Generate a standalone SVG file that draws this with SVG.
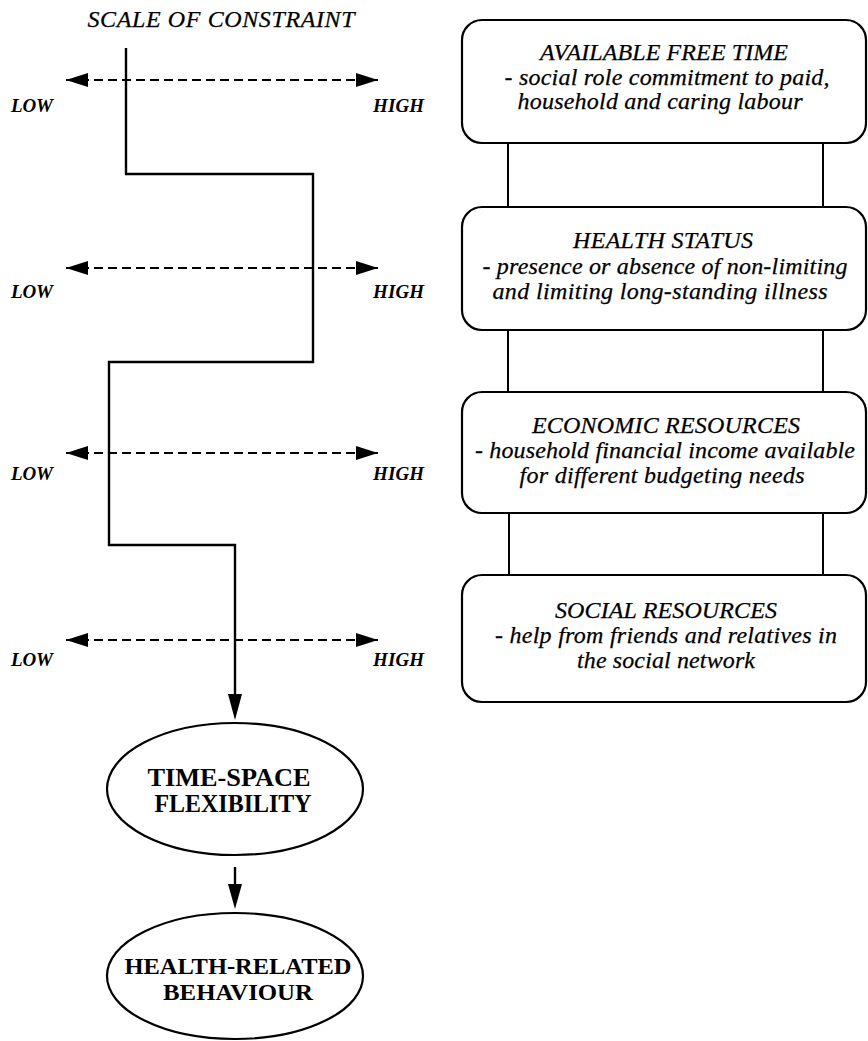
<svg xmlns="http://www.w3.org/2000/svg" width="868" height="1041" viewBox="0 0 868 1041">
  <style>
    .box { fill: #fff; stroke: #000; stroke-width: 2.2; }
    .link { stroke: #000; stroke-width: 2; fill: none; }
    .step { stroke: #000; stroke-width: 2.4; fill: none; }
    .dash { stroke: #000; stroke-width: 2; stroke-dasharray: 9 5; fill: none; }
    .it { font-family: "Liberation Serif", "Times New Roman", serif; font-style: italic; font-size: 24px; fill: #000; stroke: #000; stroke-width: 0.25; text-anchor: middle; }
    .lab { font-family: "Liberation Serif", "Times New Roman", serif; font-style: italic; font-weight: bold; font-size: 19px; fill: #000; }
    .bold { font-family: "Liberation Serif", "Times New Roman", serif; font-weight: bold; font-size: 26px; fill: #000; text-anchor: middle; }
    .bold2 { font-family: "Liberation Serif", "Times New Roman", serif; font-weight: bold; font-size: 24px; fill: #000; text-anchor: middle; }
  </style>
  <defs>
    <marker id="head" viewBox="0 0 22 14" refX="22" refY="7" markerWidth="22" markerHeight="14" markerUnits="userSpaceOnUse" orient="auto-start-reverse">
      <path d="M0,0 L22,7 L0,14 Z" fill="#000"/>
    </marker>
  </defs>

  <!-- scale heading -->
  <text class="it" x="221" y="27" textLength="267" lengthAdjust="spacing">SCALE  OF CONSTRAINT</text>

  <!-- connectors: scale arrows, constraint path, flow arrows, box links -->
  <g id="connectors">
    <line class="dash" x1="66" y1="80" x2="378" y2="80" marker-start="url(#head)" marker-end="url(#head)"/>
    <line class="dash" x1="66" y1="268" x2="378" y2="268" marker-start="url(#head)" marker-end="url(#head)"/>
    <line class="dash" x1="66" y1="453" x2="378" y2="453" marker-start="url(#head)" marker-end="url(#head)"/>
    <line class="dash" x1="66" y1="640" x2="378" y2="640" marker-start="url(#head)" marker-end="url(#head)"/>

    <path class="step" d="M126,48 V174 H313 V362 H109 V545 H235 V694"/>
    <path d="M228,694 L242,694 L235,720 Z" fill="#000"/>

    <line class="step" x1="235" y1="867" x2="235" y2="884"/>
    <path d="M228,884 L242,884 L235,909 Z" fill="#000"/>

    <line class="link" x1="508" y1="143" x2="508" y2="207"/>
    <line class="link" x1="823" y1="143" x2="823" y2="207"/>
    <line class="link" x1="508" y1="330" x2="508" y2="392"/>
    <line class="link" x1="823" y1="330" x2="823" y2="392"/>
    <line class="link" x1="509" y1="513" x2="509" y2="575"/>
    <line class="link" x1="823" y1="513" x2="823" y2="575"/>
  </g>

  <!-- scale end labels -->
  <g id="scale-labels">
    <text class="lab" x="11" y="112" textLength="42" lengthAdjust="spacing">LOW</text>
    <text class="lab" x="373" y="112" textLength="51" lengthAdjust="spacing">HIGH</text>
    <text class="lab" x="11" y="298" textLength="42" lengthAdjust="spacing">LOW</text>
    <text class="lab" x="373" y="298" textLength="51" lengthAdjust="spacing">HIGH</text>
    <text class="lab" x="11" y="480" textLength="42" lengthAdjust="spacing">LOW</text>
    <text class="lab" x="373" y="480" textLength="51" lengthAdjust="spacing">HIGH</text>
    <text class="lab" x="11" y="666" textLength="42" lengthAdjust="spacing">LOW</text>
    <text class="lab" x="373" y="666" textLength="51" lengthAdjust="spacing">HIGH</text>
  </g>

  <g id="free-time">
    <rect class="box" x="462" y="20" width="404" height="123" rx="20"/>
    <text class="it" x="664" y="60" textLength="248" lengthAdjust="spacing">AVAILABLE FREE TIME</text>
    <text class="it" x="667" y="85" textLength="325" lengthAdjust="spacing">- social role commitment to paid,</text>
    <text class="it" x="660" y="109" textLength="285" lengthAdjust="spacing">household and caring labour</text>
  </g>

  <g id="health-status">
    <rect class="box" x="462" y="207" width="404" height="123" rx="20"/>
    <text class="it" x="663" y="248" textLength="180" lengthAdjust="spacing">HEALTH STATUS</text>
    <text class="it" x="665" y="274" textLength="365" lengthAdjust="spacing">- presence or absence of non-limiting</text>
    <text class="it" x="660" y="299" textLength="335" lengthAdjust="spacing">and limiting long-standing illness</text>
  </g>

  <g id="economic-resources">
    <rect class="box" x="462" y="392" width="404" height="121" rx="20"/>
    <text class="it" x="666" y="433" textLength="268" lengthAdjust="spacing">ECONOMIC RESOURCES</text>
    <text class="it" x="665" y="458" textLength="380" lengthAdjust="spacing">- household financial income available</text>
    <text class="it" x="662" y="483" textLength="285" lengthAdjust="spacing">for different budgeting needs</text>
  </g>

  <g id="social-resources">
    <rect class="box" x="462" y="575" width="404" height="127" rx="20"/>
    <text class="it" x="666" y="618" textLength="222" lengthAdjust="spacing">SOCIAL RESOURCES</text>
    <text class="it" x="666" y="643" textLength="342" lengthAdjust="spacing">- help from friends and relatives in</text>
    <text class="it" x="666" y="668" textLength="178" lengthAdjust="spacing">the social network</text>
  </g>

  <g id="time-space-flexibility">
    <ellipse class="box" cx="235" cy="789" rx="128" ry="66"/>
    <text class="bold" x="229" y="786" textLength="163" lengthAdjust="spacingAndGlyphs">TIME-SPACE</text>
    <text class="bold" x="233" y="812" textLength="157" lengthAdjust="spacingAndGlyphs">FLEXIBILITY</text>
  </g>

  <g id="health-related-behaviour">
    <ellipse class="box" cx="235" cy="976" rx="128" ry="63"/>
    <text class="bold2" x="238" y="974" textLength="227" lengthAdjust="spacingAndGlyphs">HEALTH-RELATED</text>
    <text class="bold2" x="238" y="1000" textLength="150" lengthAdjust="spacingAndGlyphs">BEHAVIOUR</text>
  </g>
</svg>
